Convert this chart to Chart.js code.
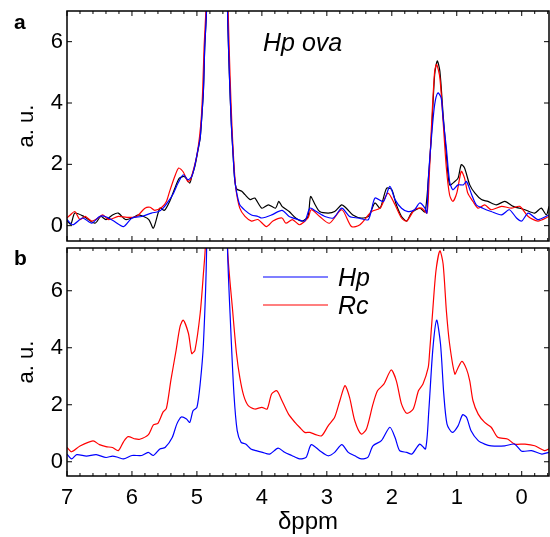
<!DOCTYPE html>
<html>
<head>
<meta charset="utf-8">
<script src="https://cdn.jsdelivr.net/npm/chart.js@4"></script>
<style>
html, body { margin: 0; padding: 0; background: #fff; width: 550px; height: 537px; overflow: hidden; }
.box { position: absolute; left: 0; width: 550px; }
#boxA { top: 0; height: 244px; }
#boxB { top: 244px; height: 293px; }
</style>
</head>
<body>
<div class="box" id="boxA"><canvas id="chartA" width="550" height="244"></canvas></div>
<div class="box" id="boxB"><canvas id="chartB" width="550" height="293"></canvas></div>
<script>
// panel a: Hp ova, three spectra (ppm, a.u.)
var ppmAblack = [7.0, 6.94, 6.88, 6.74, 6.57, 6.48, 6.4, 6.3, 6.21, 6.1, 6.0, 5.9, 5.82, 5.74, 5.67, 5.57, 5.5, 5.42, 5.34, 5.27, 5.19, 5.11, 5.08, 5.03, 4.98, 4.95, 4.93, 4.9, 4.88, 4.85, 4.7, 4.53, 4.5, 4.47, 4.44, 4.42, 4.39, 4.31, 4.26, 4.18, 4.11, 4.0, 3.9, 3.79, 3.74, 3.69, 3.58, 3.48, 3.38, 3.29, 3.25, 3.18, 3.11, 2.98, 2.88, 2.77, 2.7, 2.6, 2.47, 2.36, 2.26, 2.18, 2.08, 2.0, 1.93, 1.85, 1.77, 1.7, 1.57, 1.49, 1.44, 1.39, 1.34, 1.3, 1.26, 1.21, 1.16, 1.11, 1.03, 0.98, 0.93, 0.88, 0.8, 0.72, 0.62, 0.52, 0.39, 0.26, 0.13, -0.05, -0.2, -0.3, -0.38, -0.42];
var valAblack = [0.15, 0.05, 0.41, 0.3, 0.08, 0.3, 0.2, 0.35, 0.41, 0.2, 0.25, 0.35, 0.3, 0.2, -0.08, 0.57, 0.5, 0.79, 1.22, 1.55, 1.6, 1.39, 1.6, 1.95, 2.5, 2.85, 3.4, 4.4, 5.8, 7.2, 40, 7.2, 4.9, 3.3, 2.2, 1.55, 1.2, 1.12, 1.01, 0.85, 0.9, 0.57, 0.68, 0.57, 0.79, 0.63, 0.46, 0.25, 0.15, 0.3, 0.95, 0.68, 0.46, 0.41, 0.46, 0.68, 0.57, 0.35, 0.25, 0.3, 0.74, 0.57, 1.22, 1.17, 0.68, 0.3, 0.15, 0.41, 0.57, 0.45, 1.44, 2.97, 4.93, 5.37, 5.04, 3.62, 2.31, 1.33, 1.44, 1.55, 1.99, 1.88, 1.33, 1.06, 0.85, 0.79, 0.68, 0.79, 0.63, 0.52, 0.41, 0.57, 0.35, 0.63];

var ppmAred = [7.0, 6.95, 6.88, 6.8, 6.72, 6.62, 6.52, 6.45, 6.36, 6.21, 6.08, 5.93, 5.8, 5.72, 5.65, 5.54, 5.47, 5.42, 5.34, 5.28, 5.21, 5.14, 5.1, 5.05, 5.0, 4.96, 4.93, 4.91, 4.89, 4.86, 4.7, 4.52, 4.49, 4.46, 4.43, 4.4, 4.34, 4.26, 4.16, 4.06, 3.93, 3.83, 3.69, 3.63, 3.53, 3.42, 3.29, 3.24, 3.11, 2.96, 2.77, 2.62, 2.49, 2.31, 2.18, 2.06, 1.95, 1.85, 1.77, 1.65, 1.54, 1.46, 1.43, 1.39, 1.34, 1.31, 1.26, 1.21, 1.16, 1.11, 1.06, 1.0, 0.93, 0.88, 0.83, 0.75, 0.67, 0.57, 0.47, 0.31, 0.16, 0.03, -0.1, -0.25, -0.42];
var valAred = [0.25, 0.35, 0.46, 0.2, 0.3, 0.15, 0.25, 0.35, 0.2, 0.3, 0.27, 0.3, 0.57, 0.6, 0.5, 0.6, 0.79, 1.12, 1.61, 1.88, 1.75, 1.44, 1.5, 1.85, 2.3, 2.9, 3.6, 4.5, 5.8, 7.2, 40, 7.2, 4.9, 3.2, 2.0, 1.2, 0.57, 0.3, 0.15, 0.2, -0.03, 0.15, 0.25, 0.08, 0.2, 0.03, 0.25, 0.52, 0.3, 0.08, 0.52, -0.03, 0.03, 0.46, 0.57, 1.06, 0.68, 0.25, 0.15, 0.52, 0.57, 0.41, 1.3, 3.2, 5.04, 5.26, 4.82, 3.4, 1.88, 1.0, 0.79, 1.06, 1.77, 1.55, 1.06, 0.79, 0.57, 0.68, 0.52, 0.63, 0.57, 0.63, 0.3, 0.15, 0.3];

var ppmAblue = [7.0, 6.91, 6.76, 6.62, 6.5, 6.41, 6.28, 6.13, 6.0, 5.85, 5.7, 5.59, 5.52, 5.44, 5.36, 5.29, 5.21, 5.14, 5.08, 5.03, 4.98, 4.95, 4.93, 4.9, 4.88, 4.85, 4.7, 4.53, 4.5, 4.47, 4.44, 4.42, 4.39, 4.34, 4.26, 4.16, 4.06, 4.0, 3.85, 3.69, 3.58, 3.44, 3.34, 3.26, 3.16, 3.03, 2.9, 2.77, 2.65, 2.52, 2.36, 2.26, 2.13, 2.03, 1.95, 1.85, 1.75, 1.65, 1.57, 1.49, 1.46, 1.44, 1.39, 1.34, 1.29, 1.24, 1.21, 1.16, 1.11, 1.06, 0.98, 0.9, 0.85, 0.77, 0.7, 0.6, 0.47, 0.31, 0.19, 0.08, 0.0, -0.1, -0.25, -0.42];
var valAblue = [0.2, 0.03, 0.25, 0.08, 0.3, 0.3, 0.15, -0.03, 0.25, 0.3, 0.41, 0.46, 0.57, 0.79, 1.06, 1.39, 1.66, 1.5, 1.6, 1.99, 2.53, 2.86, 3.4, 4.38, 5.8, 7.2, 40, 7.2, 4.93, 3.3, 2.2, 1.55, 1.1, 0.68, 0.5, 0.35, 0.3, 0.25, 0.35, 0.5, 0.3, 0.2, 0.15, 0.57, 0.46, 0.3, 0.25, 0.57, 0.3, 0.25, 0.2, 0.9, 0.79, 1.28, 0.85, 0.57, 0.46, 0.52, 0.74, 0.57, 0.41, 1.44, 2.86, 3.95, 4.33, 4.17, 3.5, 2.53, 1.44, 1.17, 1.33, 1.33, 1.44, 1.01, 0.68, 0.57, 0.46, 0.35, 0.52, 0.25, 0.15, 0.41, 0.2, 0.35];

// panel b: Hp vs Rc
var ppmBred = [7.0, 6.93, 6.8, 6.6, 6.5, 6.4, 6.3, 6.21, 6.13, 6.06, 5.95, 5.88, 5.75, 5.67, 5.6, 5.52, 5.47, 5.4, 5.32, 5.26, 5.21, 5.13, 5.08, 5.03, 4.95, 4.9, 4.87, 4.7, 4.53, 4.45, 4.39, 4.34, 4.28, 4.21, 4.11, 4.0, 3.92, 3.85, 3.77, 3.69, 3.59, 3.49, 3.42, 3.34, 3.26, 3.17, 3.08, 2.98, 2.88, 2.8, 2.72, 2.65, 2.57, 2.47, 2.39, 2.29, 2.22, 2.12, 2.01, 1.93, 1.85, 1.77, 1.67, 1.59, 1.52, 1.44, 1.42, 1.37, 1.32, 1.26, 1.21, 1.16, 1.11, 1.03, 0.98, 0.92, 0.85, 0.8, 0.75, 0.67, 0.57, 0.47, 0.37, 0.22, 0.11, -0.05, -0.2, -0.35, -0.42];
var valBred = [0.5, 0.35, 0.55, 0.73, 0.6, 0.53, 0.5, 0.39, 0.7, 0.88, 0.8, 0.79, 0.94, 1.29, 1.35, 1.75, 1.87, 2.87, 3.92, 4.74, 4.97, 4.5, 3.8, 3.92, 5.2, 6.6, 7.6, 40, 7.6, 5.3, 3.78, 2.96, 2.32, 1.97, 1.85, 1.91, 1.85, 2.38, 2.49, 2.14, 1.67, 1.38, 1.21, 1.03, 1.03, 0.95, 0.91, 1.26, 1.56, 2.14, 2.67, 2.26, 1.44, 0.97, 1.15, 2.02, 2.49, 2.73, 3.22, 2.84, 2.02, 1.7, 1.85, 2.49, 2.73, 3.3, 3.78, 5.3, 6.7, 7.4, 6.94, 5.3, 4.13, 3.08, 3.3, 3.52, 3.25, 2.84, 2.14, 1.67, 1.38, 1.21, 0.86, 0.8, 0.62, 0.62, 0.56, 0.39, 0.45];

var ppmBblue = [7.0, 6.93, 6.85, 6.7, 6.55, 6.4, 6.3, 6.21, 6.13, 6.0, 5.85, 5.75, 5.67, 5.57, 5.49, 5.38, 5.31, 5.24, 5.16, 5.11, 5.06, 5.0, 4.95, 4.9, 4.85, 4.7, 4.53, 4.48, 4.43, 4.38, 4.32, 4.25, 4.17, 4.09, 3.99, 3.88, 3.75, 3.65, 3.54, 3.42, 3.32, 3.24, 3.11, 2.98, 2.88, 2.77, 2.67, 2.57, 2.47, 2.37, 2.29, 2.16, 2.03, 1.95, 1.88, 1.77, 1.69, 1.57, 1.48, 1.43, 1.37, 1.31, 1.25, 1.2, 1.15, 1.07, 0.98, 0.91, 0.85, 0.78, 0.67, 0.57, 0.47, 0.26, 0.11, 0.0, -0.15, -0.31, -0.42];
var valBblue = [0.27, 0.1, 0.25, 0.2, 0.25, 0.15, 0.2, 0.15, 0.1, 0.22, 0.22, 0.33, 0.22, 0.45, 0.5, 0.85, 1.32, 1.57, 1.5, 1.38, 1.79, 1.91, 2.73, 4.13, 7.6, 40, 7.6, 4.7, 2.38, 1.09, 0.68, 0.62, 0.45, 0.39, 0.33, 0.27, 0.48, 0.33, 0.22, 0.1, 0.15, 0.6, 0.39, 0.21, 0.33, 0.6, 0.33, 0.21, 0.1, 0.15, 0.56, 0.74, 1.21, 0.85, 0.39, 0.33, 0.27, 0.62, 0.45, 1.8, 3.9, 4.97, 4.13, 2.38, 1.32, 1.03, 1.26, 1.65, 1.56, 1.09, 0.74, 0.62, 0.56, 0.56, 0.62, 0.37, 0.39, 0.27, 0.33];

var xTicks = [7, 6, 5, 4, 3, 2, 1, 0];
var yTicks = [0, 2, 4, 6];

var FONT = "'Liberation Sans', Arial, Helvetica, sans-serif";

function pts(xs, ys) {
    var out = [];
    for (var i = 0; i < Math.min(xs.length, ys.length); i++) out.push({ x: xs[i], y: ys[i] });
    return out;
}

function line(label, color, xs, ys) {
    return {
        label: label,
        data: pts(xs, ys),
        borderColor: color,
        borderWidth: 1.2,
        pointRadius: 0,
        tension: 0.25,
        fill: false
    };
}

// box with inward ticks, panel letter, labels
var framePlugin = {
    id: 'frame',
    afterDraw: function (chart, args, opts) {
        var ctx = chart.ctx, a = chart.chartArea;
        var xs = chart.scales.x, ys = chart.scales.y;
        ctx.save();
        ctx.strokeStyle = '#000';
        ctx.lineWidth = 1;
        ctx.beginPath();
        for (var v = 7; v >= -0.41; v -= 0.2) {
            var px = xs.getPixelForValue(v);
            var major = Math.abs(v - Math.round(v)) < 0.01;
            var len = major ? 5 : 3;
            ctx.moveTo(px, a.bottom); ctx.lineTo(px, a.bottom - len);
            ctx.moveTo(px, a.top); ctx.lineTo(px, a.top + len);
        }
        yTicks.forEach(function (t) {
            var py = ys.getPixelForValue(t);
            ctx.moveTo(a.left, py); ctx.lineTo(a.left + 5, py);
            ctx.moveTo(a.right, py); ctx.lineTo(a.right - 5, py);
        });
        ctx.stroke();
        ctx.lineWidth = 1.5;
        ctx.strokeRect(a.left, a.top, a.right - a.left, a.bottom - a.top);

        ctx.fillStyle = '#000';
        ctx.textBaseline = 'alphabetic';
        ctx.font = 'bold 21px ' + FONT;
        ctx.fillText(opts.letter, 14, opts.letterY);

        ctx.font = 'italic 25px ' + FONT;
        if (opts.note) ctx.fillText(opts.note, 263, 51);
        if (opts.legend) {
            opts.legend.forEach(function (it, i) {
                var y = 33 + i * 28;
                ctx.strokeStyle = it.color;
                ctx.lineWidth = 1.2;
                ctx.beginPath();
                ctx.moveTo(263, y); ctx.lineTo(328, y);
                ctx.stroke();
                ctx.fillText(it.text, 338, y + 8.5);
            });
        }
        ctx.restore();
    }
};

function makeOptions(ymin, ymax, showX, topPad, xHeight, extra) {
    return {
        responsive: false,
        animation: false,
        layout: { padding: { left: 0, right: 1, top: topPad, bottom: 0 } },
        plugins: { legend: { display: false }, tooltip: { enabled: false }, frame: extra },
        scales: {
            x: {
                type: 'linear', reverse: true, min: -0.42, max: 7,
                grid: { display: false, drawTicks: false },
                border: { display: false },
                afterBuildTicks: function (s) { s.ticks = xTicks.map(function (t) { return { value: t }; }); },
                ticks: { display: showX, padding: 9, color: '#000', font: { family: FONT, size: 22 } },
                title: { display: showX, text: 'δppm', color: '#000', padding: 0, font: { family: FONT, size: 24 } },
                afterFit: function (s) {
                    s.height = xHeight;
                    s.paddingLeft = 0; s.paddingRight = 0;
                }
            },
            y: {
                min: ymin, max: ymax,
                grid: { display: false, drawTicks: false },
                border: { display: false },
                afterBuildTicks: function (s) { s.ticks = yTicks.map(function (t) { return { value: t }; }); },
                ticks: { padding: 4, color: '#000', font: { family: FONT, size: 22 } },
                title: { display: true, text: 'a. u.', color: '#000', padding: 14, font: { family: FONT, size: 22 } },
                afterFit: function (s) {
                    s.width = 67;
                    s.paddingTop = 0; s.paddingBottom = 0;
                }
            }
        }
    };
}

new Chart(document.getElementById('chartA'), {
    type: 'line',
    data: {
        datasets: [
            line('blue', '#0000ff', ppmAblue, valAblue),
            line('red', '#ff0000', ppmAred, valAred),
            line('black', '#000000', ppmAblack, valAblack)
        ]
    },
    options: makeOptions(-0.5, 7, false, 11, 3, { letter: 'a', letterY: 29, note: 'Hp ova' }),
    plugins: [framePlugin]
});

new Chart(document.getElementById('chartB'), {
    type: 'line',
    data: {
        datasets: [
            line('Hp', '#0000ff', ppmBblue, valBblue),
            line('Rc', '#ff0000', ppmBred, valBred)
        ]
    },
    options: makeOptions(-0.5, 7.5, true, 4, 61, {
        letter: 'b', letterY: 21,
        legend: [{ text: 'Hp', color: '#0000ff' }, { text: 'Rc', color: '#ff0000' }]
    }),
    plugins: [framePlugin]
});
</script>
</body>
</html>
